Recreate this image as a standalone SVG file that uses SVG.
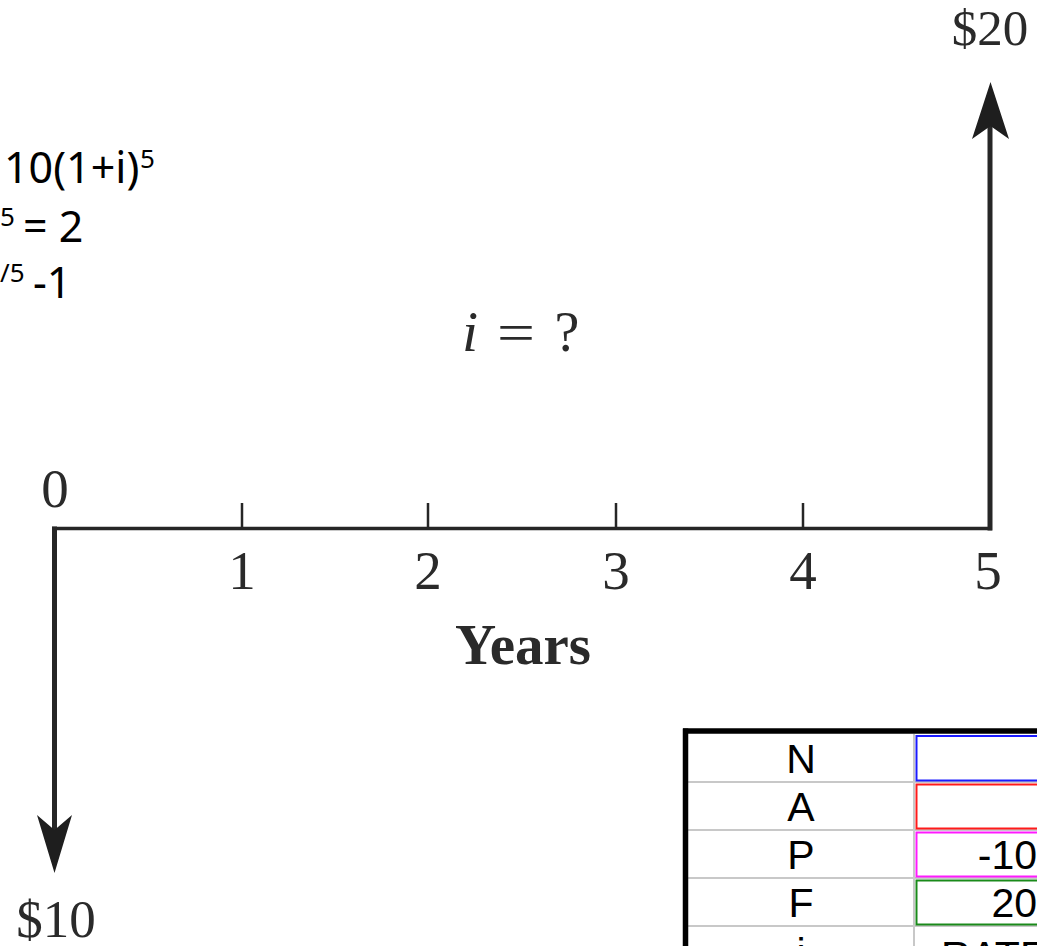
<svg xmlns="http://www.w3.org/2000/svg" width="1037" height="946" viewBox="0 0 1037 946">
  <style>
    .tm { font-family: "Liberation Serif", "Times New Roman", serif; fill: #2a2a2a; }
    .num { font-size: 55px; text-anchor: middle; }
    .eq { font-family: "Noto Sans", "Open Sans", sans-serif; fill: #000; font-size: 43px; }
    .sup { font-size: 26px; }
    .cell { font-family: "Liberation Sans", Arial, sans-serif; font-size: 41px; fill: #000; }
    .lbl { text-anchor: middle; }
    .val { text-anchor: end; }
    .axis { stroke: #262626; fill: none; }
    .grid { stroke: #c8c8c8; stroke-width: 2; }
    .box { fill: none; stroke-width: 2; }
  </style>
  <rect width="1037" height="946" fill="#ffffff"/>

  <g id="formulas">
    <text class="eq" x="4" y="183" font-size="42">10(1+i)<tspan class="sup" x="140" y="168">5</tspan></text>
    <text class="eq" x="0" y="226"><tspan class="sup">5</tspan><tspan x="23" y="242">= 2</tspan></text>
    <text class="eq" x="0" y="282"><tspan class="sup">/5</tspan><tspan x="33" y="298">-1</tspan></text>
  </g>

  <g id="interest-label">
    <text class="tm" x="462" y="351" font-size="58" font-style="italic">i</text>
    <text class="tm" x="497" y="351" font-size="55" textLength="38" lengthAdjust="spacingAndGlyphs">=</text>
    <text class="tm" x="567" y="351" font-size="56" text-anchor="middle">?</text>
  </g>

  <g id="connectors">
    <line class="axis" x1="52" y1="528.5" x2="992" y2="528.5" stroke-width="3.5"/>
    <line class="axis" x1="242" y1="503" x2="242" y2="528" stroke-width="2.5"/>
    <line class="axis" x1="428" y1="503" x2="428" y2="528" stroke-width="2.5"/>
    <line class="axis" x1="616" y1="503" x2="616" y2="528" stroke-width="2.5"/>
    <line class="axis" x1="803" y1="503" x2="803" y2="528" stroke-width="2.5"/>
    <line class="axis" x1="990" y1="530.5" x2="990" y2="125" stroke-width="5"/>
    <polygon points="990.5,82 1009,139 990.5,126 972,139" fill="#1e1e1e"/>
    <line class="axis" x1="54.5" y1="526.5" x2="54.5" y2="833" stroke-width="5"/>
    <polygon points="54.5,873 72,815 54.5,830 37,815" fill="#1e1e1e"/>
  </g>

  <g id="axis-labels">
    <text class="tm num" x="55" y="507">0</text>
    <text class="tm num" x="242" y="589">1</text>
    <text class="tm num" x="428" y="589">2</text>
    <text class="tm num" x="616" y="589">3</text>
    <text class="tm num" x="803" y="589">4</text>
    <text class="tm num" x="988" y="589">5</text>
    <text class="tm" x="523" y="664" font-size="57" font-weight="bold" text-anchor="middle">Years</text>
  </g>

  <g id="cash-20">
    <text class="tm" x="990" y="45" font-size="51" text-anchor="middle">$20</text>
  </g>
  <g id="cash-10">
    <text class="tm" x="56" y="937" font-size="53" text-anchor="middle">$10</text>
  </g>

  <g id="table">
    <rect x="686" y="732" width="360" height="230" fill="#ffffff"/>
    <line class="grid" x1="688" y1="782" x2="1040" y2="782"/>
    <line class="grid" x1="688" y1="830" x2="1040" y2="830"/>
    <line class="grid" x1="688" y1="878" x2="1040" y2="878"/>
    <line class="grid" x1="688" y1="926" x2="1040" y2="926"/>
    <line class="grid" x1="914" y1="734" x2="914" y2="946"/>
    <rect class="box" x="916.5" y="736" width="130" height="44.5" stroke="#1a1aff"/>
    <rect class="box" x="916.5" y="784.5" width="130" height="44" stroke="#ff1a1a"/>
    <rect class="box" x="916.5" y="832.5" width="130" height="44" stroke="#ff1aff"/>
    <rect class="box" x="916.5" y="880.5" width="130" height="44" stroke="#1a8a1a"/>
    <line x1="683" y1="731" x2="1040" y2="731" stroke="#000" stroke-width="5.5"/>
    <line x1="685.5" y1="728.5" x2="685.5" y2="950" stroke="#000" stroke-width="5.5"/>
    <text class="cell lbl" x="801" y="773">N</text>
    <text class="cell lbl" x="801" y="821">A</text>
    <text class="cell lbl" x="801" y="869">P</text>
    <text class="cell lbl" x="801" y="917">F</text>
    <text class="cell lbl" x="801" y="967">i</text>
    <text class="cell val" x="1037" y="869" fill="#ff0000">-10</text>
    <text class="cell val" x="1037" y="917">20</text>
    <text class="cell" x="917" y="970">=RATE</text>
  </g>
</svg>
